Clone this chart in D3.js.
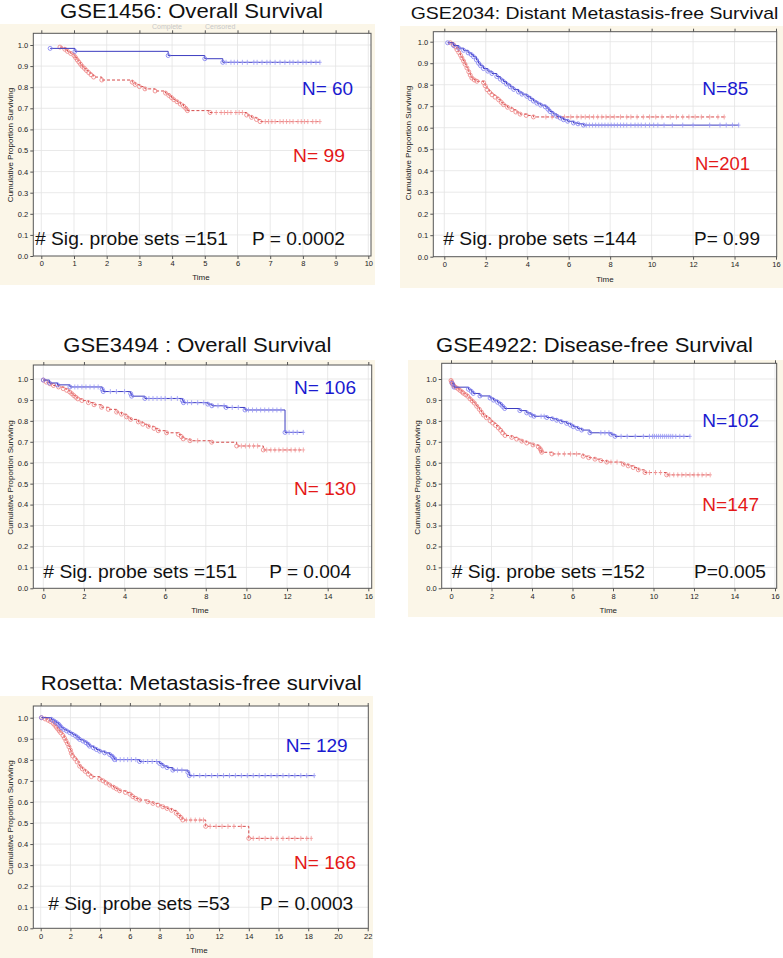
<!DOCTYPE html>
<html><head><meta charset="utf-8">
<script src="https://cdn.jsdelivr.net/npm/d3@7"></script>
<style>
body{margin:0;background:#fff;}
text{font-family:"Liberation Sans",Arial,sans-serif;}
</style>
</head><body>
<svg id="chart" width="783" height="958"></svg>
<script>
// ---------------- DATA ----------------
const titles = ["GSE1456: Overall Survival", "GSE2034: Distant Metastasis-free Survival",
  "GSE3494 : Overall Survival", "GSE4922: Disease-free Survival", "Rosetta: Metastasis-free survival"];
const blueLabels = ["N= 60", "N=85", "N= 106", "N=102", "N= 129"];
const redLabels = ["N= 99", "N=201", "N= 130", "N=147", "N= 166"];
const sigLabels = ["# Sig. probe sets =151", "# Sig. probe sets =144", "# Sig. probe sets =151",
  "# Sig. probe sets =152", "# Sig. probe sets =53"];
const pLabels = ["P = 0.0002", "P= 0.99", "P = 0.004", "P=0.005", "P = 0.0003"];
const yAxisTitle = "Cumulative Proportion Surviving";
const xAxisTitle = "Time";
const yTicks = [0, 0.1, 0.2, 0.3, 0.4, 0.5, 0.6, 0.7, 0.8, 0.9, 1.0];
const xTicks10 = [0, 1, 2, 3, 4, 5, 6, 7, 8, 9, 10];
const xTicks16 = [0, 2, 4, 6, 8, 10, 12, 14, 16];
const xTicks22 = [0, 2, 4, 6, 8, 10, 12, 14, 16, 18, 20, 22];

// GSE1456
const gse1456BlueTime = [0.27, 1.03, 3.88, 5.0, 5.55];
const gse1456BlueSurv = [0.984, 0.970, 0.950, 0.935, 0.918];
const gse1456BlueCens = [5.65, 5.8, 5.9, 6.0, 6.15, 6.3, 6.5, 6.6, 6.75, 6.9, 7.0, 7.15, 7.3, 7.45, 7.6, 7.7, 7.85, 8.0, 8.1, 8.25, 8.4, 8.52];
const gse1456RedTime = [0.57, 0.72, 0.80, 0.90, 1.00, 1.05, 1.10, 1.15, 1.20, 1.25, 1.32, 1.38, 1.45, 1.52, 1.60, 1.85,
  2.78, 2.87, 3.00, 3.17, 3.48, 3.80, 3.90, 3.98, 4.05, 4.15, 4.25, 4.35, 4.42, 4.47, 5.16, 6.28, 6.43, 6.58, 6.69];
const gse1456RedSurv = [0.990, 0.980, 0.970, 0.960, 0.950, 0.940, 0.929, 0.919, 0.909, 0.899, 0.889, 0.879, 0.869, 0.859, 0.848, 0.834,
  0.824, 0.813, 0.803, 0.792, 0.782, 0.772, 0.761, 0.751, 0.741, 0.731, 0.720, 0.710, 0.699, 0.689, 0.680, 0.668, 0.657, 0.647, 0.637];
const gse1456RedCens = [5.35, 5.5, 5.6, 5.7, 5.8, 5.95, 6.05, 6.15, 6.85, 6.95, 7.05, 7.15, 7.3, 7.4, 7.5, 7.6, 7.7, 7.85, 7.95, 8.05, 8.15, 8.3, 8.4, 8.52];

// GSE2034
const gse2034BlueTime = [0.16, 0.45, 0.70, 0.93, 1.15, 1.30, 1.41, 1.55, 1.65, 1.75, 1.89, 2.10, 2.30, 2.53, 2.70, 2.85, 3.00, 3.18,
  3.35, 3.58, 3.75, 3.98, 4.15, 4.30, 4.47, 4.65, 4.87, 5.00, 5.10, 5.25, 5.43, 5.60, 5.75, 5.95, 6.23, 6.45, 6.71];
const gse2034BlueSurv = [0.995, 0.982, 0.970, 0.960, 0.948, 0.940, 0.930, 0.915, 0.900, 0.888, 0.875, 0.863, 0.852, 0.838, 0.826, 0.815, 0.803, 0.790,
  0.778, 0.766, 0.756, 0.746, 0.735, 0.724, 0.714, 0.705, 0.697, 0.686, 0.675, 0.664, 0.653, 0.645, 0.637, 0.630, 0.622, 0.618, 0.612];
const gse2034BlueCens = [6.85, 7.0, 7.15, 7.3, 7.45, 7.6, 7.75, 7.9, 8.05, 8.2, 8.35, 8.5, 8.65, 8.8, 9.0, 9.2, 9.35, 9.5, 9.7, 9.9,
  10.1, 10.3, 10.6, 11.0, 11.5, 12.0, 12.8, 13.3, 13.6, 13.9, 14.2];
const gse2034RedTime = [0.29, 0.45, 0.55, 0.61, 0.70, 0.78, 0.85, 0.93, 1.00, 1.09, 1.18, 1.25, 1.33, 1.45, 1.57, 1.89, 1.97, 2.06,
  2.18, 2.30, 2.45, 2.62, 2.75, 2.86, 3.05, 3.26, 3.45, 3.66, 3.95, 4.30];
const gse2034RedSurv = [0.995, 0.985, 0.975, 0.963, 0.950, 0.937, 0.924, 0.910, 0.895, 0.878, 0.860, 0.845, 0.831, 0.822, 0.816, 0.810, 0.795, 0.777,
  0.765, 0.753, 0.742, 0.730, 0.718, 0.707, 0.695, 0.684, 0.673, 0.663, 0.657, 0.650];
const gse2034RedCens = [4.9, 5.2, 5.5, 5.8, 6.1, 6.4, 6.6, 6.8, 7.0, 7.2, 7.4, 7.6, 7.8, 8.0, 8.2, 8.5, 8.8, 9.0, 9.3, 9.6, 9.9,
  10.2, 10.5, 10.9, 11.2, 11.5, 11.8, 12.1, 12.4, 12.8, 13.2, 13.5];

// GSE3494
const gse3494BlueTime = [0.0, 0.3, 0.7, 1.31, 2.90, 2.95, 4.30, 4.35, 5.0, 6.85, 6.9, 8.1, 8.3, 9.0, 9.93, 11.9];
const gse3494BlueSurv = [0.995, 0.981, 0.972, 0.962, 0.951, 0.940, 0.930, 0.918, 0.907, 0.897, 0.887, 0.880, 0.872, 0.864, 0.852, 0.745];
const gse3494BlueCens = [1.55, 1.7, 1.9, 2.1, 2.3, 2.5, 2.7, 3.3, 3.6, 4.0, 5.2, 5.4, 5.6, 5.8, 6.0, 6.3, 6.6, 7.1, 7.3, 7.6, 7.9,
  8.6, 8.9, 9.3, 9.6, 10.1, 10.3, 10.5, 10.7, 10.9, 11.1, 11.3, 11.5, 11.7, 12.1, 12.3, 12.5, 12.8];
const gse3494RedTime = [0.0, 0.15, 0.33, 0.5, 0.75, 0.98, 1.15, 1.3, 1.4, 1.5, 1.6, 1.7, 1.9, 2.22, 2.5, 2.87, 3.2, 3.61, 3.85, 4.1,
  4.3, 4.68, 4.9, 5.17, 5.45, 5.66, 6.07, 6.65, 6.8, 6.89, 7.22, 8.29, 9.52, 10.83];
const gse3494RedSurv = [0.995, 0.985, 0.977, 0.969, 0.962, 0.954, 0.946, 0.938, 0.930, 0.921, 0.913, 0.905, 0.897, 0.887, 0.877, 0.865, 0.855, 0.842, 0.832, 0.819,
  0.807, 0.795, 0.784, 0.774, 0.764, 0.753, 0.743, 0.735, 0.724, 0.714, 0.705, 0.698, 0.680, 0.661];
const gse3494RedCens = [7.6, 9.75, 9.95, 10.15, 10.35, 10.55, 11.0, 11.2, 11.4, 11.6, 11.8, 12.0, 12.2, 12.4, 12.6, 12.8];

// GSE4922
const gse4922BlueTime = [0.05, 0.15, 0.86, 1.00, 1.10, 1.43, 1.93, 2.10, 2.30, 2.45, 2.55, 2.65, 3.40, 3.74, 3.95, 4.10, 4.73, 5.00,
  5.22, 5.45, 5.71, 5.90, 6.04, 6.25, 6.45, 6.86, 7.90, 8.10];
const gse4922BlueSurv = [0.980, 0.961, 0.951, 0.941, 0.931, 0.919, 0.909, 0.899, 0.889, 0.879, 0.869, 0.859, 0.849, 0.838, 0.828, 0.822, 0.816, 0.810,
  0.803, 0.796, 0.788, 0.780, 0.772, 0.764, 0.756, 0.743, 0.736, 0.726];
const gse4922BlueCens = [4.45, 4.6, 7.4, 7.6, 7.8, 8.4, 8.7, 9.1, 9.5, 9.8, 9.95, 10.05, 10.15, 10.25, 10.35, 10.45, 10.55, 10.65,
  10.75, 10.85, 10.95, 11.1, 11.3, 11.5, 11.8];
const gse4922RedTime = [0.0, 0.03, 0.06, 0.10, 0.15, 0.25, 0.36, 0.45, 0.55, 0.61, 0.72, 0.82, 0.94, 1.05, 1.15, 1.27, 1.40, 1.50,
  1.60, 1.75, 1.93, 2.05, 2.20, 2.34, 2.45, 2.55, 2.67, 3.00, 3.24, 3.50, 3.74, 4.05, 4.31, 4.40, 4.45, 4.48, 4.98,
  6.53, 6.80, 7.11, 7.40, 7.69, 8.51, 8.75, 9.00, 9.25, 9.58, 10.65];
const gse4922RedSurv = [0.993, 0.986, 0.979, 0.973, 0.966, 0.959, 0.952, 0.945, 0.938, 0.932, 0.925, 0.918, 0.905, 0.895, 0.885, 0.870, 0.855, 0.842,
  0.828, 0.815, 0.800, 0.790, 0.778, 0.766, 0.755, 0.742, 0.730, 0.721, 0.713, 0.703, 0.694, 0.685, 0.676, 0.667, 0.658, 0.650, 0.642,
  0.631, 0.624, 0.617, 0.610, 0.603, 0.593, 0.585, 0.577, 0.566, 0.553, 0.542];
const gse4922RedCens = [5.3, 5.6, 5.9, 6.2, 7.9, 8.2, 9.8, 10.1, 10.35, 10.8, 11.0, 11.2, 11.4, 11.6, 11.8, 12.0, 12.2, 12.4, 12.6, 12.8];

// Rosetta
const rosettaBlueTime = [0.05, 0.72, 0.90, 1.05, 1.20, 1.30, 1.39, 1.55, 1.75, 1.95, 2.15, 2.35, 2.50, 2.62, 2.85, 3.05, 3.20, 3.29,
  3.55, 3.75, 3.97, 4.30, 4.64, 4.80, 4.90, 4.97, 6.65, 8.00, 8.22, 8.50, 8.89, 9.90, 10.0];
const rosettaBlueSurv = [1.000, 0.992, 0.984, 0.977, 0.969, 0.961, 0.953, 0.945, 0.937, 0.929, 0.921, 0.913, 0.905, 0.897, 0.889, 0.881, 0.873, 0.865,
  0.857, 0.849, 0.841, 0.833, 0.825, 0.817, 0.809, 0.801, 0.792, 0.783, 0.771, 0.763, 0.751, 0.741, 0.725];
const rosettaBlueCens = [5.1, 5.35, 5.6, 5.85, 6.1, 6.4, 6.9, 7.2, 7.5, 7.8, 9.2, 9.5, 10.3, 10.7, 11.1, 11.5, 11.9, 12.3, 12.7,
  13.1, 13.5, 13.9, 14.3, 14.7, 15.1, 15.5, 15.9, 16.3, 16.7, 17.1, 17.5, 17.9, 18.4];
const rosettaRedTime = [0.05, 0.30, 0.50, 0.65, 0.83, 0.95, 1.05, 1.15, 1.25, 1.35, 1.5, 1.6, 1.7, 1.8, 1.9, 2.0, 2.06, 2.15, 2.3,
  2.45, 2.62, 2.8, 3.0, 3.2, 3.41, 3.97, 4.2, 4.4, 4.64, 4.9, 5.1, 5.31, 5.7, 6.0, 6.2, 6.4, 6.65, 7.2, 7.55, 7.9,
  8.22, 8.5, 8.8, 9.12, 9.3, 9.45, 9.56, 11.1, 14.0];
const rosettaRedSurv = [1.000, 0.994, 0.988, 0.982, 0.973, 0.964, 0.955, 0.946, 0.937, 0.928, 0.915, 0.903, 0.890, 0.877, 0.862, 0.846, 0.831, 0.818, 0.805,
  0.790, 0.770, 0.757, 0.745, 0.732, 0.720, 0.708, 0.700, 0.690, 0.680, 0.670, 0.662, 0.653, 0.645, 0.637, 0.625, 0.617, 0.609, 0.601, 0.593, 0.585,
  0.577, 0.569, 0.560, 0.546, 0.535, 0.525, 0.514, 0.484, 0.427];
const rosettaRedCens = [9.8, 10.1, 10.4, 10.7, 10.95, 11.4, 11.8, 12.2, 12.6, 13.0, 13.5, 14.3, 14.7, 15.1, 15.5, 15.9, 16.3, 16.7,
  17.1, 17.5, 17.9, 18.2];

// ---------------- LAYOUT ----------------
const panels = [
  { bg: [0, 24, 375, 285], frame: [33.3, 33.3, 371, 256], xr: [41.3, 368.3], yr: [256, 45], xTicks: xTicks10,
    title: { x: 60, y: 17.5, size: 20.5, len: 263 }, ytitle: [13, 145], xtitle: [201, 280],
    nb: [302, 95, 51], nr: [293, 162, 52], sig: [35, 245, 193], p: [252, 245, 93],
    blue: [gse1456BlueTime, gse1456BlueSurv, gse1456BlueCens], red: [gse1456RedTime, gse1456RedSurv, gse1456RedCens] },
  { bg: [400, 26, 783, 288], frame: [433.3, 31.7, 776.7, 256.7], xr: [444.3, 776], yr: [256.7, 41.7], xTicks: xTicks16,
    title: { x: 410.7, y: 19.3, size: 17, len: 367.7 }, ytitle: [411, 143], xtitle: [605, 281.7],
    nb: [702.3, 95, 46], nr: [695, 170, 55], sig: [443.3, 245, 193.4], p: [694, 245, 66],
    blue: [gse2034BlueTime, gse2034BlueSurv, gse2034BlueCens], red: [gse2034RedTime, gse2034RedSurv, gse2034RedCens] },
  { bg: [0, 360, 375, 618], frame: [33.3, 365, 371.7, 588.3], xr: [43.3, 368.3], yr: [588.3, 379], xTicks: xTicks16,
    title: { x: 63.3, y: 351.7, size: 21, len: 268 }, ytitle: [13, 477.5], xtitle: [200, 613.3],
    nb: [294, 394, 62], nr: [294, 495, 62], sig: [43.3, 578.3, 194], p: [269.3, 578.3, 81.7],
    blue: [gse3494BlueTime, gse3494BlueSurv, gse3494BlueCens], red: [gse3494RedTime, gse3494RedSurv, gse3494RedCens] },
  { bg: [408, 360, 783, 617], frame: [441.7, 363.3, 776.7, 588.3], xr: [451, 775], yr: [588.3, 379], xTicks: xTicks16,
    title: { x: 436, y: 351.7, size: 20.5, len: 317 }, ytitle: [419.5, 477.5], xtitle: [608.3, 613.3],
    nb: [702.3, 427.3, 56.7], nr: [702.3, 511, 56.7], sig: [451.7, 578.3, 193.3], p: [694, 578.3, 72],
    blue: [gse4922BlueTime, gse4922BlueSurv, gse4922BlueCens], red: [gse4922RedTime, gse4922RedSurv, gse4922RedCens] },
  { bg: [0, 696, 373, 958], frame: [33.3, 706, 368.3, 928.3], xr: [40.7, 367.7], yr: [928.3, 717.7], xTicks: xTicks22,
    title: { x: 40.7, y: 690, size: 21, len: 321 }, ytitle: [13, 817.5], xtitle: [199, 953.3],
    nb: [285.7, 751.7, 62], nr: [294, 869.3, 62], sig: [48.3, 910, 181.7], p: [260, 910, 93.3],
    blue: [rosettaBlueTime, rosettaBlueSurv, rosettaBlueCens], red: [rosettaRedTime, rosettaRedSurv, rosettaRedCens] }
];

const style = {
  bg: "#fbf6e8", frame: "#555", grid: "#e3e3e3", tick: "#222",
  blueLine: "#3c3cc0", blueMark: "#7a7af0", blueCens: "#9a9af5",
  redLine: "#d44848", redMark: "#ee8080", redCens: "#f29a9a",
  blueText: "#1a1ad0", redText: "#e41818"
};

const svg = d3.select("#chart");

function drawSeries(g, x, y, data, lineColor, markColor, censColor, dashed) {
  const [times, survs, cens] = data;
  const pts = times.map((t, i) => [t, survs[i]]);
  const lastT = Math.max(times[times.length - 1], d3.max(cens) || 0);
  const linePts = pts.concat([[lastT, survs[survs.length - 1]]]);
  const line = d3.line().x(d => x(d[0])).y(d => y(d[1])).curve(d3.curveStepAfter);
  g.append("path").attr("d", line(linePts)).attr("fill", "none")
    .attr("stroke", lineColor).attr("stroke-width", 1)
    .attr("stroke-dasharray", dashed ? "3,2" : null);
  const survAt = t => { let s = survs[0]; times.forEach((tt, i) => { if (tt <= t) s = survs[i]; }); return s; };
  const cg = g.append("g").attr("stroke", censColor).attr("stroke-width", 0.8);
  cens.forEach(c => {
    const cx = x(c), cy = y(survAt(c));
    cg.append("line").attr("x1", cx).attr("x2", cx).attr("y1", cy - 2.5).attr("y2", cy + 2.5);
    cg.append("line").attr("x1", cx - 1.8).attr("x2", cx + 1.8).attr("y1", cy).attr("y2", cy);
  });
  g.append("g").selectAll("circle").data(pts).join("circle")
    .attr("cx", d => x(d[0])).attr("cy", d => y(d[1])).attr("r", 2)
    .attr("fill", "none").attr("stroke", markColor).attr("stroke-width", 0.8);
}

panels.forEach((p, i) => {
  const g = svg.append("g");
  g.append("rect").attr("x", p.bg[0]).attr("y", p.bg[1]).attr("width", p.bg[2] - p.bg[0]).attr("height", p.bg[3] - p.bg[1])
    .attr("fill", style.bg);
  const [fl, ft, fr, fb] = p.frame;
  g.append("rect").attr("x", fl).attr("y", ft).attr("width", fr - fl).attr("height", fb - ft).attr("fill", "#fff");

  const xMax = p.xTicks[p.xTicks.length - 1];
  const x = d3.scaleLinear().domain([0, xMax]).range(p.xr);
  const y = d3.scaleLinear().domain([0, 1]).range(p.yr);

  // grid
  const grid = g.append("g").attr("stroke", style.grid).attr("stroke-width", 0.8);
  p.xTicks.forEach(t => { if (x(t) > fl + 1 && x(t) < fr - 1) grid.append("line").attr("x1", x(t)).attr("x2", x(t)).attr("y1", ft).attr("y2", fb); });
  yTicks.forEach(t => { if (y(t) > ft + 1 && y(t) < fb - 1) grid.append("line").attr("x1", fl).attr("x2", fr).attr("y1", y(t)).attr("y2", y(t)); });

  // axes
  const ax = g.append("g").attr("transform", `translate(0,${fb})`)
    .call(d3.axisBottom(x).tickValues(p.xTicks).tickSize(3).tickPadding(2).tickFormat(d3.format("d")));
  const ay = g.append("g").attr("transform", `translate(${fl},0)`)
    .call(d3.axisLeft(y).tickValues(yTicks).tickSize(3).tickPadding(2).tickFormat(d3.format(".1f")));
  const at = g.append("g").attr("transform", `translate(0,${ft})`)
    .call(d3.axisTop(x).tickValues(p.xTicks).tickSize(3).tickFormat(""));
  [ax, ay, at].forEach(a => {
    a.select(".domain").remove();
    a.selectAll("line").attr("stroke", "#555");
    a.selectAll("text").attr("font-size", 7.5).attr("fill", style.tick).attr("font-family", "Liberation Sans, Arial, sans-serif");
  });

  g.append("rect").attr("x", fl).attr("y", ft).attr("width", fr - fl).attr("height", fb - ft)
    .attr("fill", "none").attr("stroke", style.frame).attr("stroke-width", 1);

  // curves
  const cg = g.append("g");
  drawSeries(cg, x, y, p.red, style.redLine, style.redMark, style.redCens, true);
  drawSeries(cg, x, y, p.blue, style.blueLine, style.blueMark, style.blueCens, false);

  // axis titles
  g.append("text").attr("x", p.xtitle[0]).attr("y", p.xtitle[1]).attr("text-anchor", "middle")
    .attr("font-size", 8).attr("fill", "#222").text(xAxisTitle);
  g.append("text").attr("transform", `translate(${p.ytitle[0]},${p.ytitle[1]}) rotate(-90)`)
    .attr("text-anchor", "middle").attr("font-size", 8).attr("fill", "#222").text(yAxisTitle);

  // title
  g.append("text").attr("x", p.title.x).attr("y", p.title.y).attr("font-size", p.title.size)
    .attr("textLength", p.title.len).attr("lengthAdjust", "spacingAndGlyphs").attr("fill", "#111").text(titles[i]);

  // annotations
  const ann = (pos, txt, color) => g.append("text").attr("x", pos[0]).attr("y", pos[1]).attr("font-size", 18.5)
    .attr("textLength", pos[2]).attr("lengthAdjust", "spacingAndGlyphs").attr("fill", color).text(txt);
  ann(p.nb, blueLabels[i], style.blueText);
  ann(p.nr, redLabels[i], style.redText);
  ann(p.sig, sigLabels[i], "#111");
  ann(p.p, pLabels[i], "#111");
});

// faint legend remnants under first title
svg.append("text").attr("x", 152).attr("y", 29).attr("font-size", 7).attr("fill", "#c8c8c8").text("Complete");
svg.append("text").attr("x", 205).attr("y", 29).attr("font-size", 7).attr("fill", "#c8c8c8").text("Censored");
</script>
</body></html>
